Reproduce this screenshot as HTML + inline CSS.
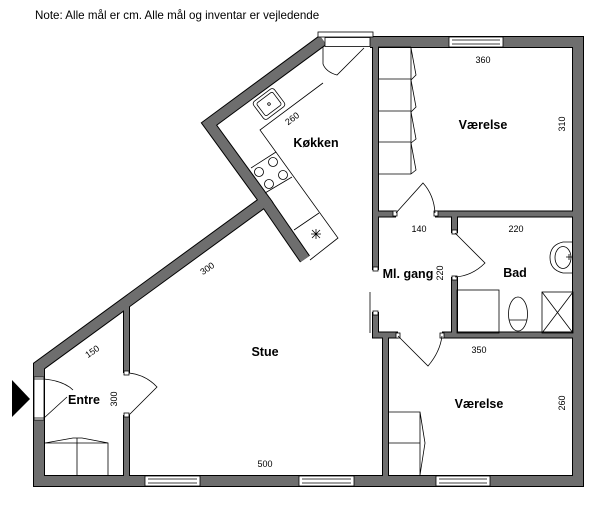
<!DOCTYPE html>
<html><head><meta charset="utf-8"><style>
html,body{margin:0;padding:0;background:#fff;}
svg{display:block;}
text{font-family:"Liberation Sans",Arial,sans-serif;fill:#000;}
.lb{font-weight:bold;font-size:12.5px;text-anchor:middle;}
.dm{font-size:9px;text-anchor:middle;}
</style></head><body>
<svg width="600" height="508" viewBox="0 0 600 508" xmlns="http://www.w3.org/2000/svg">
<text x="35" y="19" font-size="11.6">Note: Alle mål er cm. Alle mål og inventar er vejledende</text>

<g fill="none" stroke="#000" stroke-linejoin="miter" stroke-linecap="butt">
<path d="M323,40 L209,124 L265,201 L39,366 L39,481 L578,481 L578,42 L370,42" stroke-width="12"/>
<path d="M265,201 L305,259" stroke-width="12"/>
<path d="M375.5,42 L375.5,270 M373,214 L396,214 M435,214 L578,214 M454.5,214 L454.5,233 M454.5,277 L454.5,335 M375.5,312 L375.5,335 L398,335 M442,335 L578,335 M385.5,335 L385.5,481 M126.5,305 L126.5,373 M126.5,415 L126.5,481" stroke-width="7"/>
</g>
<g fill="none" stroke="#6e6e6e" stroke-linejoin="miter" stroke-linecap="butt">
<path d="M323,40 L209,124 L265,201 L39,366 L39,481 L578,481 L578,42 L370,42" stroke-width="10"/>
<path d="M265,201 L305,259" stroke-width="10"/>
<path d="M375.5,42 L375.5,269 M374,214 L395,214 M436,214 L578,214 M454.5,214 L454.5,232 M454.5,278 L454.5,335 M375.5,313 L375.5,335 L397,335 M443,335 L578,335 M385.5,335 L385.5,481 M126.5,306 L126.5,372 M126.5,416 L126.5,481" stroke-width="5"/>
</g>

<g fill="#fff" stroke="#000" stroke-width="0.8">
<rect x="318" y="32" width="55" height="5"/>
<rect x="325" y="37.5" width="45" height="9"/>
<rect x="449" y="37" width="54" height="10"/>
<line x1="452" y1="40" x2="500" y2="40"/><line x1="452" y1="44" x2="500" y2="44"/>
<rect x="145" y="476" width="55" height="10"/>
<line x1="148" y1="479" x2="197" y2="479"/><line x1="148" y1="483" x2="197" y2="483"/>
<rect x="299" y="476" width="55" height="10"/>
<line x1="302" y1="479" x2="351" y2="479"/><line x1="302" y1="483" x2="351" y2="483"/>
<rect x="436" y="476" width="54" height="10"/>
<line x1="439" y1="479" x2="487" y2="479"/><line x1="439" y1="483" x2="487" y2="483"/>
<rect x="34" y="377" width="10" height="43"/>
<line x1="34" y1="379" x2="44" y2="379"/><line x1="34" y1="418" x2="44" y2="418"/>
<rect x="373" y="267" width="5" height="4"/><rect x="373" y="311" width="5" height="4"/>
<rect x="393" y="211" width="4" height="5"/><rect x="434" y="211" width="4" height="5"/>
<rect x="452" y="230" width="5" height="4"/><rect x="452" y="276" width="5" height="4"/>
<rect x="396" y="333" width="4" height="5"/><rect x="440" y="333" width="4" height="5"/>
<rect x="124" y="371" width="5" height="4"/><rect x="124" y="413" width="5" height="4"/>
</g>

<g fill="none" stroke="#000" stroke-width="0.8">
<line x1="370" y1="292" x2="370" y2="333"/>
<path d="M323,47 L323,64 Q326,72 337,75 L364,48"/>
<path d="M396,213 L423,183 Q434,195 435,213"/>
<path d="M455,233 L485,263 Q472,276 455,277"/>
<path d="M398,336 L428,366 Q440,352 442,336"/>
<path d="M129,373 Q146,375 157,387 L129,415"/>
<path d="M44,379 Q64,381 73,390"/><path d="M44,418 L67,397"/>
<path d="M323,83 L260,130 L338,238 L310,260"/>
<path d="M251,168 L276,152 M265,193 L292,177 M294,230 L319,213"/>
<path d="M312,230 L320,238 M320,230 L312,238 M316,229 L316,239 M311,234 L321,234"/>
<g transform="translate(269,104) rotate(-37)"><rect x="-13" y="-11" width="26" height="22" rx="3"/><rect x="-10" y="-8" width="20" height="16" rx="2"/><circle cx="0" cy="0" r="1.3"/></g>
<circle cx="273" cy="162" r="4.5"/><circle cx="259" cy="172" r="4.5"/><circle cx="283" cy="175" r="4.5"/><circle cx="269" cy="184" r="4.5"/>
<path d="M378,47 L411,47 M378,79 L411,79 M378,111 L411,111 M378,142 L411,142 M378,174 L411,174 M411,47 L411,174"/>
<path d="M411,48 L416,75 L411,80 L416,107 L411,112 L416,139 L411,143 L416,170 L411,174"/>
<path d="M388,412 L420,412 L420,475 M388,443 L420,443 M420,412 L425,443 L420,475"/>
<path d="M45,443 L73,438 L82,438 L108,443 L108,475 M45,443 L108,443 M77,438 L77,475"/>
<rect x="457" y="290" width="42" height="43"/>
<ellipse cx="518" cy="314" rx="9.5" ry="17"/><line x1="509" y1="320" x2="527" y2="320"/>
<rect x="542" y="292" width="31" height="41"/><path d="M542,292 L573,333 M573,292 L542,333"/>
<path d="M573,242 L563,242 Q550,245 550,257.5 Q550,270 563,273 L573,273"/>
<ellipse cx="563" cy="257.5" rx="8" ry="11"/><path d="M566,257 L572,257 M569,254 L569,260"/>
</g>
<polygon points="12,380 30,399 12,417" fill="#000"/>

<text class="lb" x="316" y="147">Køkken</text>
<text class="lb" x="483" y="129">Værelse</text>
<text class="lb" x="408" y="278">Ml. gang</text>
<text class="lb" x="515" y="277">Bad</text>
<text class="lb" x="265" y="356">Stue</text>
<text class="lb" x="84" y="404">Entre</text>
<text class="lb" x="479" y="408">Værelse</text>

<text class="dm" x="483" y="63">360</text>
<text class="dm" transform="translate(565,124) rotate(-90)">310</text>
<text class="dm" transform="translate(294,121) rotate(-37)">260</text>
<text class="dm" x="419" y="232">140</text>
<text class="dm" x="516" y="232">220</text>
<text class="dm" transform="translate(443,273) rotate(-90)">220</text>
<text class="dm" transform="translate(209,271) rotate(-35)">300</text>
<text class="dm" x="479" y="353">350</text>
<text class="dm" transform="translate(94,354) rotate(-35)">150</text>
<text class="dm" transform="translate(117,399) rotate(-90)">300</text>
<text class="dm" transform="translate(565,403) rotate(-90)">260</text>
<text class="dm" x="265" y="467">500</text>
</svg>
</body></html>
